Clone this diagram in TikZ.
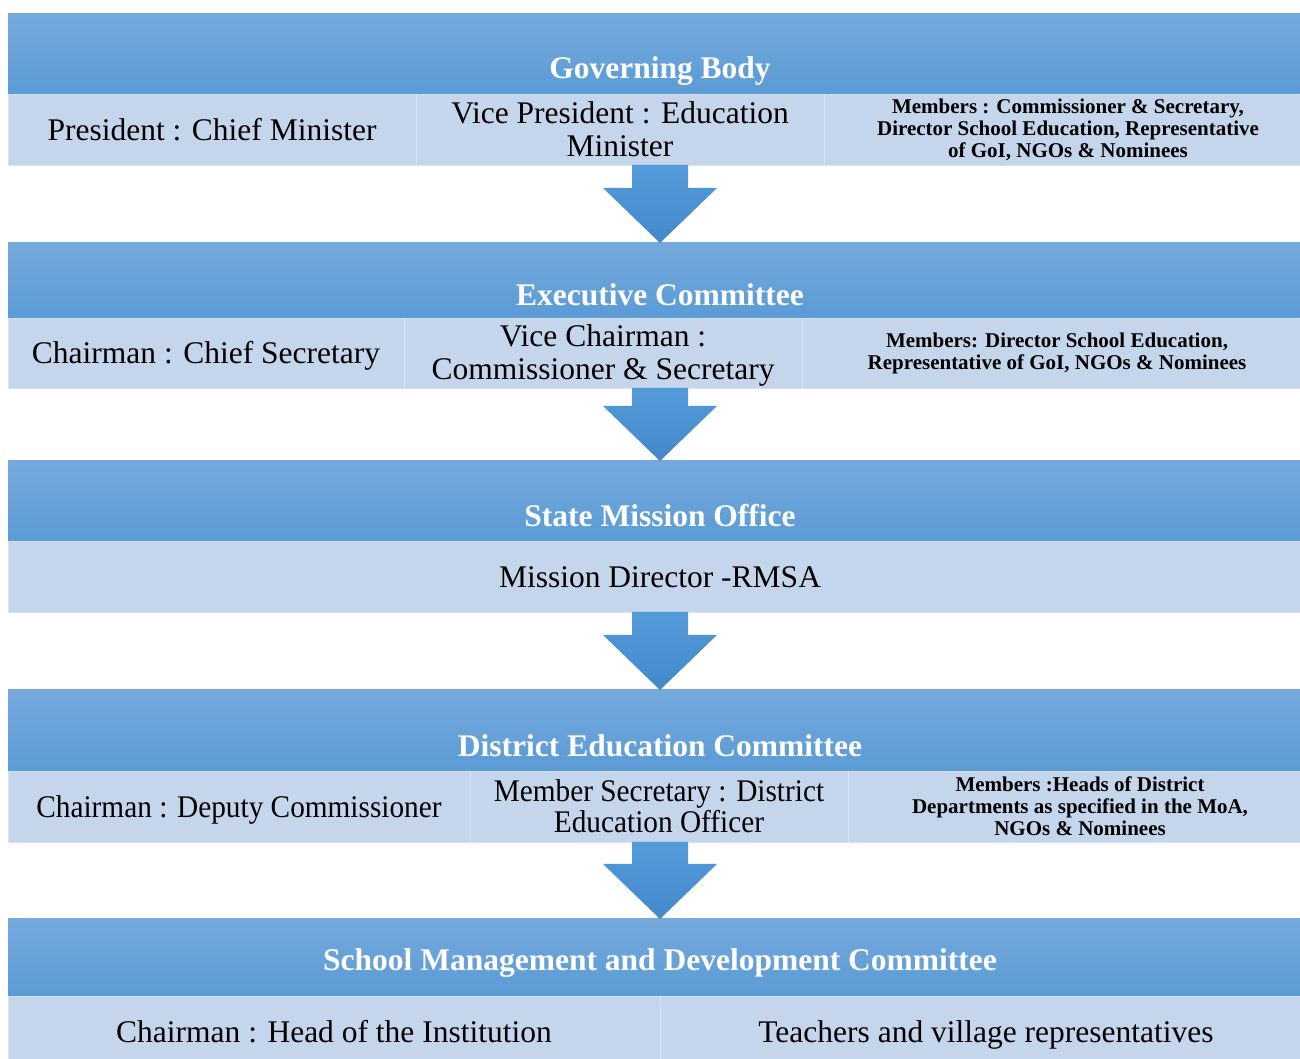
\documentclass[tikz,border=0pt]{standalone}
\usepackage{fontspec}
\setmainfont{Liberation Serif}
\newfontfamily\narrowserif[FakeStretch=0.93]{Liberation Serif}
\usetikzlibrary{positioning, calc}

\definecolor{bandtop}{RGB}{117,169,221}
\definecolor{bandbot}{RGB}{91,155,213}
\definecolor{cellfill}{RGB}{197,214,236}
\definecolor{cellline}{RGB}{214,226,242}
\definecolor{arrowtop}{RGB}{84,155,217}
\definecolor{arrowbot}{RGB}{68,136,202}

\tikzset{
  band/.style={rectangle, top color=bandtop, bottom color=bandbot, minimum width=1304, minimum height=80, inner sep=0, outer sep=0},
  bandtitle/.style={text=white, font=\fontsize{31.5}{33}\selectfont\bfseries, inner sep=0},
  cell/.style={rectangle, fill=cellfill, draw=cellline, line width=0.8pt, minimum height=71, inner sep=0, outer sep=0, align=center, font=\fontsize{31.5}{33}\selectfont},
  oneline/.style={cell, text height=28, text depth=6},
  members/.style={cell, font=\fontsize{21}{22}\selectfont\bfseries},
  flowarrow/.style={top color=arrowtop, bottom color=arrowbot}
}

% block arrow from the bottom of one tier to the top of the next
\newcommand{\blockarrow}[2]{%
  \shade[flowarrow] ($(#1 -| mid)+(-28,0)$) -- ($(#2 -| mid)+(-28,55)$) -- ($(#2 -| mid)+(-57,55)$)
    -- (#2 -| mid) -- ($(#2 -| mid)+(57,55)$) -- ($(#2 -| mid)+(28,55)$) -- ($(#1 -| mid)+(28,0)$) -- cycle;}

\begin{document}
\begin{tikzpicture}[x=1pt, y=1pt]
  \useasboundingbox (0,0) rectangle (1300,1059);
  \coordinate (mid) at (660,0);

  % Governing Body
  \node[band, anchor=north west] (gb) at (8,1045) {};
  \node[bandtitle] (gbTitle) at ($(gb.south)+(0,23)$) {Governing Body};
  \node[oneline, anchor=north west, minimum width=408] (gbA) at (gb.south west) {President : Chief Minister};
  \node[cell, right=0 of gbA, minimum width=408] (gbB) {Vice President : Education\\Minister};
  \node[members, right=0 of gbB, minimum width=488] (gbC) {Members : Commissioner \& Secretary,\\Director School Education, Representative\\of GoI, NGOs \& Nominees};

  % Executive Committee
  \node[band, anchor=north west, minimum height=75] (ec) at (8,816) {};
  \node[bandtitle] (ecTitle) at ($(ec.south)+(0,23)$) {Executive Committee};
  \node[oneline, anchor=north west, minimum width=396, minimum height=70] (ecA) at (ec.south west) {Chairman : Chief Secretary};
  \node[cell, right=0 of ecA, minimum width=398, minimum height=70] (ecB) {\rule{0pt}{26pt}Vice Chairman :\\Commissioner \& Secretary};
  \node[members, right=0 of ecB, minimum width=510, minimum height=70] (ecC) {Members: Director School Education,\\Representative of GoI, NGOs \& Nominees};

  % State Mission Office
  \node[band, anchor=north west] (smo) at (8,598) {};
  \node[bandtitle] (smoTitle) at ($(smo.south)+(0,25)$) {State Mission Office};
  \node[oneline, anchor=north west, minimum width=1304] (smoA) at (smo.south west) {Mission Director -RMSA};

  % District Education Committee
  \node[band, anchor=north west, minimum height=81] (dec) at (8,369) {};
  \node[bandtitle] (decTitle) at ($(dec.south)+(0,25)$) {District Education Committee};
  \node[oneline, anchor=north west, minimum width=462, font=\fontsize{31.5}{31}\narrowserif] (decA) at (dec.south west) {Chairman : Deputy Commissioner};
  \node[cell, right=0 of decA, minimum width=378, font=\fontsize{31.5}{31}\narrowserif] (decB) {Member Secretary : District\\Education Officer};
  \node[members, right=0 of decB, minimum width=464] (decC) {Members :Heads of District\\Departments as specified in the MoA,\\NGOs \& Nominees};

  % School Management and Development Committee
  \node[band, anchor=north west, minimum height=77] (smdc) at (8,140) {};
  \node[bandtitle] (smdcTitle) at ($(smdc.center)+(0,-6)$) {School Management and Development Committee};
  \node[oneline, anchor=north west, minimum width=652] (smdcA) at (smdc.south west) {Chairman : Head of the Institution};
  \node[oneline, right=0 of smdcA, minimum width=652] (smdcB) {Teachers and village representatives};

  % arrows between the tiers
  \blockarrow{gbB.south}{ec.north}
  \blockarrow{ecB.south}{smo.north}
  \blockarrow{smoA.south}{dec.north}
  \blockarrow{decB.south}{smdc.north}
\end{tikzpicture}
\end{document}
